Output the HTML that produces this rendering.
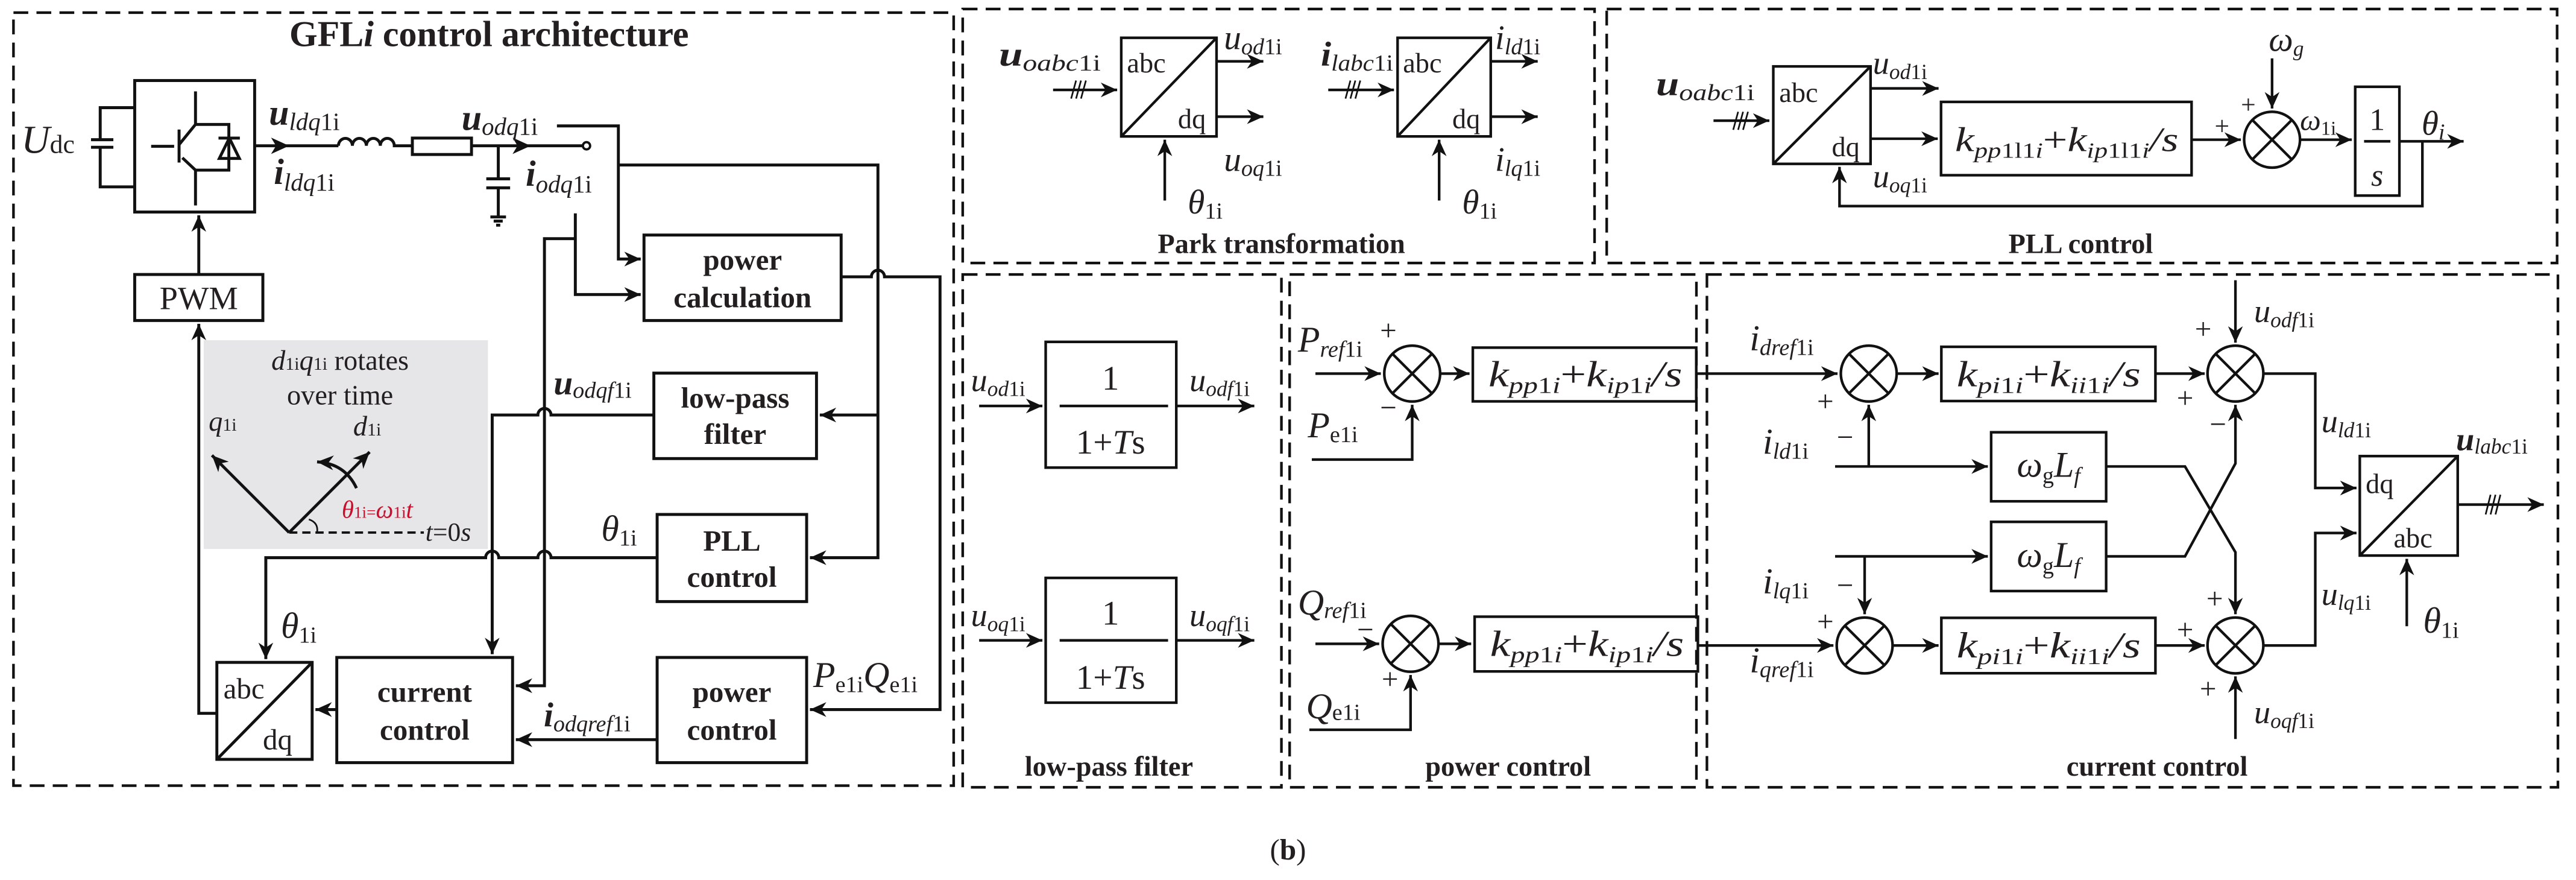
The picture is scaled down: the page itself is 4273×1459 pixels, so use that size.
<!DOCTYPE html>
<html><head><meta charset="utf-8"><style>
html,body{margin:0;padding:0;background:#fff;}
svg{display:block;}
text{font-family:"Liberation Serif",serif;fill:#231f20;}
.i{font-style:italic}
.b{font-weight:bold}
</style></head><body>
<svg width="4273" height="1459" viewBox="0 0 1568 535.4" preserveAspectRatio="none" xmlns="http://www.w3.org/2000/svg">
<defs>
<marker id="a" markerUnits="userSpaceOnUse" markerWidth="12" markerHeight="10" refX="10" refY="4.5" orient="auto"><path d="M0,0 L10,4.5 L0,9 L3,4.5 z" fill="#111"/></marker>
</defs>
<rect width="1568" height="535.4" fill="#fff"/>
<g fill="none" stroke="#111" stroke-width="1.6" stroke-dasharray="9,5">
<rect x="8.2" y="7.7" width="572.3" height="470.3"/>
<rect x="586" y="5.5" width="384.6" height="154.5"/>
<rect x="978" y="5.5" width="578.5" height="154.5"/>
<rect x="586" y="167" width="194" height="312"/>
<rect x="785" y="167" width="247.6" height="312"/>
<rect x="1039" y="167" width="518" height="312"/>
</g>
<rect x="124" y="207" width="173" height="127" fill="#e6e6e8"/>

<!-- LEFT PANEL -->
<g fill="none" stroke="#111" stroke-width="1.8">
<rect x="82" y="49" width="73" height="80"/>
<rect x="82" y="167" width="78" height="28"/>
<rect x="392" y="143" width="120" height="52"/>
<rect x="398" y="227" width="99" height="52"/>
<rect x="400" y="313" width="91" height="53"/>
<rect x="400" y="400" width="91" height="64"/>
<rect x="205" y="400" width="107" height="64"/>
<rect x="132" y="403" width="58" height="59"/>
<path d="M132 462 L190 403"/>
<path d="M82 65.5 H61 V85 M55.4 85 H69 M55.4 89.6 H69 M61 89.6 V113.7 H82"/>
<path d="M119 55.6 V75.7 L109 88 M109 78.8 V98.9 M92 89 H106 M119 125 V103.5 L111 96 M119 75.7 H139.3 V103.5 H119"/>
<path d="M133 84 H146"/>
<path d="M139.6 84 L133.5 96.4 H145.7 Z"/>
<path d="M155 88.7 H206 M206 88.7 a4.25 4.5 0 0 1 8.5 0 a4.25 4.5 0 0 1 8.5 0 a4.25 4.5 0 0 1 8.5 0 a4.25 4.5 0 0 1 8.5 0 H251 M287 88.7 H355"/>
<rect x="251" y="84" width="36" height="10"/>
<path d="M303.3 88.7 V108.8 M296 108.8 H310.5 M296 114.3 H310.5 M303.3 114.3 V132 M298.5 132 H308 M300.5 134.5 H306 M302 137 H304.5"/>
<path d="M339 76.6 H376.4 V157.6 H390" marker-end="url(#a)"/>
<path d="M376.4 100.4 H534.4 V339.3 H493" marker-end="url(#a)"/>
<path d="M534.4 252.5 H499" marker-end="url(#a)"/>
<path d="M350.2 129.8 V179.2 H390" marker-end="url(#a)"/>
<path d="M350.2 145.2 H331.4 V417.2 H314" marker-end="url(#a)"/>
<path d="M512 168.4 H530.4 A4 4 0 0 1 538.4 168.4 H572.2 V431.7 H493" marker-end="url(#a)"/>
<path d="M398 252.5 H335.4 A4 4 0 0 0 327.4 252.5 H299.6 V398" marker-end="url(#a)"/>
<path d="M400 339.3 H335.4 A4 4 0 0 0 327.4 339.3 H303.6 A4 4 0 0 0 295.6 339.3 H161.8 V401" marker-end="url(#a)"/>
<path d="M400 450 H314" marker-end="url(#a)"/>
<path d="M205 431.7 H192" marker-end="url(#a)"/>
<path d="M132 434 H121 V197" marker-end="url(#a)"/>
<path d="M121 167 V131" marker-end="url(#a)"/>
<path d="M176 324 L129 277" marker-end="url(#a)"/>
<path d="M176 324 L225 275" marker-end="url(#a)"/>
<path d="M176 324 H258" stroke-dasharray="5,3" stroke-width="1.4"/>
<path d="M217 297 Q210 282 193 281" marker-end="url(#a)"/>
<path d="M188 316 Q194 318 193 324" stroke-width="1"/>
</g>
<path d="M176 88.7 l-11 -5 l3 5 l-3 5z M323 88.7 l-11 -5 l3 5 l-3 5z" fill="#111"/>
<circle cx="357" cy="88.7" r="2.2" fill="#fff" stroke="#111" stroke-width="1.4"/>

<text x="297.7" y="28" font-size="22" class="b" text-anchor="middle">GFL<tspan class="i">i</tspan> control architecture</text>
<text x="13" y="93" font-size="24" class="i">U<tspan font-size="16" font-style="normal">dc</tspan></text>
<text x="163.7" y="76" font-size="22" class="b i">u<tspan font-size="15" font-weight="normal" dy="3">ldq</tspan><tspan font-size="15" font-weight="normal" font-style="normal">1i</tspan></text>
<text x="166.7" y="112" font-size="22" class="b i">i<tspan font-size="15" font-weight="normal" dy="4">ldq</tspan><tspan font-size="15" font-weight="normal" font-style="normal">1i</tspan></text>
<text x="281" y="79" font-size="22" class="b i">u<tspan font-size="15" font-weight="normal" dy="3">odq</tspan><tspan font-size="15" font-weight="normal" font-style="normal">1i</tspan></text>
<text x="320" y="113" font-size="22" class="b i">i<tspan font-size="15" font-weight="normal" dy="4">odq</tspan><tspan font-size="15" font-weight="normal" font-style="normal">1i</tspan></text>
<text x="121" y="188" font-size="20" text-anchor="middle">PWM</text>
<text x="452" y="164" font-size="18" class="b" text-anchor="middle">power</text>
<text x="452" y="187" font-size="18" class="b" text-anchor="middle">calculation</text>
<text x="447.5" y="248" font-size="18" class="b" text-anchor="middle">low-pass</text>
<text x="447.5" y="270" font-size="18" class="b" text-anchor="middle">filter</text>
<text x="445.5" y="335" font-size="18" class="b" text-anchor="middle">PLL</text>
<text x="445.5" y="357" font-size="18" class="b" text-anchor="middle">control</text>
<text x="445.5" y="427" font-size="18" class="b" text-anchor="middle">power</text>
<text x="445.5" y="450" font-size="18" class="b" text-anchor="middle">control</text>
<text x="258.5" y="427" font-size="18" class="b" text-anchor="middle">current</text>
<text x="258.5" y="450" font-size="18" class="b" text-anchor="middle">control</text>
<text x="136" y="425" font-size="18">abc</text>
<text x="160" y="456" font-size="18">dq</text>
<text x="337" y="240" font-size="21" class="b i">u<tspan font-size="14" font-weight="normal" dy="2">odqf</tspan><tspan font-size="14" font-weight="normal" font-style="normal">1i</tspan></text>
<text x="366" y="329" font-size="22" class="i">θ<tspan font-size="14" font-style="normal" dy="3">1i</tspan></text>
<text x="171" y="388" font-size="22" class="i">θ<tspan font-size="14" font-style="normal" dy="3">1i</tspan></text>
<text x="495" y="418" font-size="22" class="i">P<tspan font-size="14" font-style="normal" dy="3">e1i</tspan><tspan dy="-3">Q</tspan><tspan font-size="14" font-style="normal" dy="3">e1i</tspan></text>
<text x="331" y="442" font-size="21" class="b i">i<tspan font-size="14" font-weight="normal" dy="3">odqref</tspan><tspan font-size="14" font-weight="normal" font-style="normal">1i</tspan></text>
<text x="207" y="225" font-size="17" text-anchor="middle"><tspan class="i">d</tspan><tspan font-size="11">1i</tspan><tspan class="i">q</tspan><tspan font-size="11">1i</tspan> rotates</text>
<text x="207" y="246" font-size="17" text-anchor="middle">over time</text>
<text x="127" y="262" font-size="17" class="i">q<tspan font-size="11" font-style="normal">1i</tspan></text>
<text x="215" y="265" font-size="17" class="i">d<tspan font-size="11" font-style="normal">1i</tspan></text>
<text x="208" y="315" font-size="15" class="i" style="fill:#c8102e">θ<tspan font-size="10" font-style="normal">1i=</tspan>ω<tspan font-size="10" font-style="normal">1i</tspan>t</text>
<text x="259" y="329" font-size="16" class="i">t<tspan font-style="normal">=0</tspan>s</text>

<!-- PARK -->
<g fill="none" stroke="#111" stroke-width="1.6">
<rect x="682.5" y="23" width="58" height="60"/><path d="M682.5 83 L740.5 23"/>
<rect x="850.7" y="23" width="56.7" height="60"/><path d="M850.7 83 L907.4 23"/>
<path d="M641 54.7 H680" marker-end="url(#a)"/>
<path d="M808.5 54.7 H848.5" marker-end="url(#a)"/>
<path d="M740.5 37.3 H769" marker-end="url(#a)"/><path d="M740.5 71 H769" marker-end="url(#a)"/>
<path d="M907.4 37.3 H936" marker-end="url(#a)"/><path d="M907.4 71 H936" marker-end="url(#a)"/>
<path d="M709 122 V85" marker-end="url(#a)"/><path d="M876 122 V85" marker-end="url(#a)"/>
<path d="M652 60 L655 49 M655 60 L658 49 M658 60 L661 49 M819 60 L822 49 M822 60 L825 49 M825 60 L828 49" stroke-width="1"/>
</g>
<text x="686" y="44" font-size="17">abc</text><text x="717" y="78" font-size="17">dq</text>
<text x="854" y="44" font-size="17">abc</text><text x="884" y="78" font-size="17">dq</text>
<text x="608" y="40" font-size="21" class="b i" textLength="62" lengthAdjust="spacingAndGlyphs">u<tspan font-size="14" font-weight="normal" dy="3">oabc</tspan><tspan font-size="14" font-weight="normal" font-style="normal">1i</tspan></text>
<text x="804" y="40" font-size="21" class="b i" textLength="44" lengthAdjust="spacingAndGlyphs">i<tspan font-size="14" font-weight="normal" dy="3">labc</tspan><tspan font-size="14" font-weight="normal" font-style="normal">1i</tspan></text>
<text x="745" y="30" font-size="21" class="i">u<tspan font-size="14" dy="3">od</tspan><tspan font-size="14" font-style="normal">1i</tspan></text>
<text x="745" y="104" font-size="21" class="i">u<tspan font-size="14" dy="3">oq</tspan><tspan font-size="14" font-style="normal">1i</tspan></text>
<text x="910" y="30" font-size="21" class="i">i<tspan font-size="14" dy="3">ld</tspan><tspan font-size="14" font-style="normal">1i</tspan></text>
<text x="910" y="104" font-size="21" class="i">i<tspan font-size="14" dy="3">lq</tspan><tspan font-size="14" font-style="normal">1i</tspan></text>
<text x="723" y="130" font-size="21" class="i">θ<tspan font-size="14" font-style="normal" dy="3">1i</tspan></text>
<text x="890" y="130" font-size="21" class="i">θ<tspan font-size="14" font-style="normal" dy="3">1i</tspan></text>
<text x="780" y="154" font-size="17" class="b" text-anchor="middle">Park transformation</text>

<!-- PLL -->
<g fill="none" stroke="#111" stroke-width="1.6">
<rect x="1079.4" y="40.4" width="59.2" height="59.3"/><path d="M1079.4 99.7 L1138.6 40.4"/>
<path d="M1043 73.4 H1077" marker-end="url(#a)"/>
<path d="M1055 79 L1058 68 M1058 79 L1061 68 M1061 79 L1064 68" stroke-width="1"/>
<path d="M1138.6 53.8 H1180" marker-end="url(#a)"/>
<path d="M1138.6 84.4 H1179.5" marker-end="url(#a)"/>
<rect x="1181.5" y="62" width="152.5" height="44.6"/>
<path d="M1334 85 H1364" marker-end="url(#a)"/>
<circle cx="1383" cy="85" r="17"/><path d="M1371 73 L1395 97 M1395 73 L1371 97"/>
<path d="M1383 35.5 V66" marker-end="url(#a)"/>
<path d="M1400 85 H1431.5" marker-end="url(#a)"/>
<rect x="1433.6" y="52.8" width="26.9" height="66.2"/><path d="M1439 86 H1455"/>
<path d="M1460.5 86 H1499.6" marker-end="url(#a)"/>
<path d="M1474.5 86 V125.4 H1119.7 V101.5" marker-end="url(#a)"/>
</g>
<text x="1083" y="62" font-size="17">abc</text><text x="1115" y="95" font-size="17">dq</text>
<text x="1008" y="58" font-size="21" class="b i" textLength="60" lengthAdjust="spacingAndGlyphs">u<tspan font-size="14" font-weight="normal" dy="3">oabc</tspan><tspan font-size="14" font-weight="normal" font-style="normal">1i</tspan></text>
<text x="1140" y="45" font-size="20" class="i">u<tspan font-size="13" dy="3">od</tspan><tspan font-size="13" font-style="normal">1i</tspan></text>
<text x="1140" y="114" font-size="20" class="i">u<tspan font-size="13" dy="3">oq</tspan><tspan font-size="13" font-style="normal">1i</tspan></text>
<text x="1190" y="92" font-size="21" class="i" textLength="136" lengthAdjust="spacingAndGlyphs">k<tspan font-size="13" dy="4">pp</tspan><tspan font-size="13" font-style="normal">1l1</tspan><tspan font-size="13">i</tspan><tspan font-style="normal" dy="-4">+</tspan>k<tspan font-size="13" dy="4">ip</tspan><tspan font-size="13" font-style="normal">1l1</tspan><tspan font-size="13">i</tspan><tspan dy="-4">/s</tspan></text>
<text x="1381" y="31" font-size="21" class="i">ω<tspan font-size="13" dy="3">g</tspan></text>
<text x="1364" y="69" font-size="16">+</text><text x="1348" y="82" font-size="16">+</text>
<text x="1400" y="79" font-size="18" class="i">ω<tspan font-size="12" font-style="normal" dy="3">1i</tspan></text>
<text x="1447" y="79" font-size="19" text-anchor="middle">1</text>
<text x="1447" y="113" font-size="19" class="i" text-anchor="middle">s</text>
<text x="1474" y="82" font-size="21" class="i">θ<tspan font-size="14" dy="3">i</tspan></text>
<text x="1266.5" y="154" font-size="17" class="b" text-anchor="middle">PLL control</text>

<!-- LOW-PASS -->
<g fill="none" stroke="#111" stroke-width="1.6">
<rect x="636.5" y="208" width="79.5" height="76.5"/><path d="M645 247 H711"/>
<rect x="636.5" y="351.6" width="79.5" height="75.9"/><path d="M645 389.6 H711"/>
<path d="M596 247 H634.5" marker-end="url(#a)"/><path d="M716 247 H763.5" marker-end="url(#a)"/>
<path d="M596 389.6 H634.5" marker-end="url(#a)"/><path d="M716 389.6 H763.5" marker-end="url(#a)"/>
</g>
<text x="676" y="237" font-size="21" text-anchor="middle">1</text>
<text x="676" y="276" font-size="21" text-anchor="middle">1+<tspan class="i">T</tspan>s</text>
<text x="676" y="380" font-size="21" text-anchor="middle">1</text>
<text x="676" y="419" font-size="21" text-anchor="middle">1+<tspan class="i">T</tspan>s</text>
<text x="591" y="238" font-size="20" class="i">u<tspan font-size="13" dy="3">od</tspan><tspan font-size="13" font-style="normal">1i</tspan></text>
<text x="724" y="238" font-size="20" class="i">u<tspan font-size="13" dy="3">odf</tspan><tspan font-size="13" font-style="normal">1i</tspan></text>
<text x="591" y="381" font-size="20" class="i">u<tspan font-size="13" dy="3">oq</tspan><tspan font-size="13" font-style="normal">1i</tspan></text>
<text x="724" y="381" font-size="20" class="i">u<tspan font-size="13" dy="3">oqf</tspan><tspan font-size="13" font-style="normal">1i</tspan></text>
<text x="675" y="472" font-size="17" class="b" text-anchor="middle">low-pass filter</text>

<!-- POWER CONTROL -->
<g fill="none" stroke="#111" stroke-width="1.6">
<path d="M800.7 227.3 H840.5" marker-end="url(#a)"/>
<circle cx="859.6" cy="227.3" r="17"/><path d="M847.6 215.3 L871.6 239.3 M871.6 215.3 L847.6 239.3"/>
<path d="M798.5 279.6 H859.6 V246.3" marker-end="url(#a)"/>
<path d="M876.6 227.3 H894.5" marker-end="url(#a)"/>
<rect x="896.5" y="211.5" width="136" height="32.7"/>
<path d="M800.7 391.7 H839.5" marker-end="url(#a)"/>
<circle cx="858.6" cy="391.7" r="17"/><path d="M846.6 379.7 L870.6 403.7 M870.6 379.7 L846.6 403.7"/>
<path d="M797 444 H858.6 V410.7" marker-end="url(#a)"/>
<path d="M875.6 391.7 H895.5" marker-end="url(#a)"/>
<rect x="897.6" y="375.2" width="135.9" height="33.3"/>
</g>
<text x="790" y="214" font-size="22" class="i">P<tspan font-size="14" dy="3">ref</tspan><tspan font-size="14" font-style="normal">1i</tspan></text>
<text x="796" y="266" font-size="22" class="i">P<tspan font-size="14" font-style="normal" dy="3">e1i</tspan></text>
<text x="790" y="374" font-size="22" class="i">Q<tspan font-size="14" dy="2">ref</tspan><tspan font-size="14" font-style="normal">1i</tspan></text>
<text x="795" y="437" font-size="22" class="i">Q<tspan font-size="14" font-style="normal" dy="1">e1i</tspan></text>
<text x="840" y="207" font-size="18">+</text><text x="840" y="254" font-size="18">−</text>
<text x="826" y="389" font-size="18">−</text><text x="841" y="419" font-size="18">+</text>
<text x="965" y="235" font-size="22" class="i" text-anchor="middle" textLength="118" lengthAdjust="spacingAndGlyphs">k<tspan font-size="14" dy="4">pp</tspan><tspan font-size="14" font-style="normal">1</tspan><tspan font-size="14">i</tspan><tspan font-style="normal" dy="-4">+</tspan>k<tspan font-size="14" dy="4">ip</tspan><tspan font-size="14" font-style="normal">1</tspan><tspan font-size="14">i</tspan><tspan dy="-4">/s</tspan></text>
<text x="966" y="399" font-size="22" class="i" text-anchor="middle" textLength="118" lengthAdjust="spacingAndGlyphs">k<tspan font-size="14" dy="4">pp</tspan><tspan font-size="14" font-style="normal">1</tspan><tspan font-size="14">i</tspan><tspan font-style="normal" dy="-4">+</tspan>k<tspan font-size="14" dy="4">ip</tspan><tspan font-size="14" font-style="normal">1</tspan><tspan font-size="14">i</tspan><tspan dy="-4">/s</tspan></text>
<text x="918" y="472" font-size="17" class="b" text-anchor="middle">power control</text>

<!-- CURRENT CONTROL -->
<g fill="none" stroke="#111" stroke-width="1.6">
<path d="M1032.5 227.3 H1118.5" marker-end="url(#a)"/>
<path d="M1033.5 392.7 H1116" marker-end="url(#a)"/>
<circle cx="1137.5" cy="227.3" r="17"/><path d="M1125.5 215.3 L1149.5 239.3 M1149.5 215.3 L1125.5 239.3"/>
<circle cx="1135" cy="392.7" r="17"/><path d="M1123 380.7 L1147 404.7 M1147 380.7 L1123 404.7"/>
<path d="M1154.5 227.3 H1180" marker-end="url(#a)"/>
<path d="M1152 392.7 H1180" marker-end="url(#a)"/>
<rect x="1181.7" y="211" width="130.3" height="33"/>
<rect x="1181.7" y="375.9" width="130.3" height="33.7"/>
<path d="M1312 227.3 H1342" marker-end="url(#a)"/>
<path d="M1312 392.7 H1342" marker-end="url(#a)"/>
<circle cx="1360.7" cy="227.3" r="17"/><path d="M1348.7 215.3 L1372.7 239.3 M1372.7 215.3 L1348.7 239.3"/>
<circle cx="1360.7" cy="392.7" r="17"/><path d="M1348.7 380.7 L1372.7 404.7 M1372.7 380.7 L1348.7 404.7"/>
<path d="M1360.7 170.5 V208.5" marker-end="url(#a)"/>
<path d="M1360.7 449.6 V411.5" marker-end="url(#a)"/>
<path d="M1117 283.8 H1210" marker-end="url(#a)"/>
<path d="M1137.5 283.8 V246.3" marker-end="url(#a)"/>
<path d="M1117 338.5 H1210" marker-end="url(#a)"/>
<path d="M1135 338.5 V373.7" marker-end="url(#a)"/>
<rect x="1212" y="263" width="70" height="42"/>
<rect x="1212" y="317.5" width="70" height="42.1"/>
<path d="M1282 283.8 H1330 L1360.7 336 V373.7" marker-end="url(#a)"/>
<path d="M1282 338.5 H1330 L1360.7 282 V246.3" marker-end="url(#a)"/>
<path d="M1377.7 227.3 H1409.3 V296.9 H1434.4" marker-end="url(#a)"/>
<path d="M1377.7 392.7 H1409.3 V324.3 H1434.4" marker-end="url(#a)"/>
<rect x="1436.4" y="277.5" width="59.6" height="60.5"/><path d="M1436.4 338 L1496 277.5"/>
<path d="M1496 307 H1548.4" marker-end="url(#a)"/>
<path d="M1513 313 L1516 301 M1516 313 L1519 301 M1519 313 L1522 301" stroke-width="1"/>
<path d="M1465 381 V340" marker-end="url(#a)"/>
</g>
<text x="1440" y="300" font-size="17">dq</text><text x="1457" y="333" font-size="17">abc</text>
<text x="1065" y="213" font-size="22" class="i">i<tspan font-size="14" dy="3">dref</tspan><tspan font-size="14" font-style="normal">1i</tspan></text>
<text x="1065" y="409" font-size="22" class="i">i<tspan font-size="14" dy="3">qref</tspan><tspan font-size="14" font-style="normal">1i</tspan></text>
<text x="1073" y="276" font-size="22" class="i">i<tspan font-size="14" dy="3">ld</tspan><tspan font-size="14" font-style="normal">1i</tspan></text>
<text x="1073" y="361" font-size="22" class="i">i<tspan font-size="14" dy="3">lq</tspan><tspan font-size="14" font-style="normal">1i</tspan></text>
<text x="1106" y="250" font-size="18">+</text><text x="1118" y="272" font-size="18">−</text>
<text x="1118" y="362" font-size="18">−</text><text x="1106" y="384" font-size="18">+</text>
<text x="1336" y="206" font-size="18">+</text><text x="1325" y="248" font-size="18">+</text><text x="1345" y="264" font-size="18">−</text>
<text x="1343" y="370" font-size="18">+</text><text x="1325" y="389" font-size="18">+</text><text x="1339" y="425" font-size="18">+</text>
<text x="1247" y="235" font-size="22" class="i" text-anchor="middle" textLength="112" lengthAdjust="spacingAndGlyphs">k<tspan font-size="14" dy="4">pi</tspan><tspan font-size="14" font-style="normal">1</tspan><tspan font-size="14">i</tspan><tspan font-style="normal" dy="-4">+</tspan>k<tspan font-size="14" dy="4">ii</tspan><tspan font-size="14" font-style="normal">1</tspan><tspan font-size="14">i</tspan><tspan dy="-4">/s</tspan></text>
<text x="1247" y="400" font-size="22" class="i" text-anchor="middle" textLength="112" lengthAdjust="spacingAndGlyphs">k<tspan font-size="14" dy="4">pi</tspan><tspan font-size="14" font-style="normal">1</tspan><tspan font-size="14">i</tspan><tspan font-style="normal" dy="-4">+</tspan>k<tspan font-size="14" dy="4">ii</tspan><tspan font-size="14" font-style="normal">1</tspan><tspan font-size="14">i</tspan><tspan dy="-4">/s</tspan></text>
<text x="1247" y="290" font-size="22" class="i" text-anchor="middle">ω<tspan font-size="14" font-style="normal" dy="4">g</tspan><tspan dy="-4">L</tspan><tspan font-size="14" dy="4">f</tspan></text>
<text x="1247" y="345" font-size="22" class="i" text-anchor="middle">ω<tspan font-size="14" font-style="normal" dy="4">g</tspan><tspan dy="-4">L</tspan><tspan font-size="14" dy="4">f</tspan></text>
<text x="1372" y="196" font-size="20" class="i">u<tspan font-size="13" dy="3">odf</tspan><tspan font-size="13" font-style="normal">1i</tspan></text>
<text x="1372" y="440" font-size="20" class="i">u<tspan font-size="13" dy="3">oqf</tspan><tspan font-size="13" font-style="normal">1i</tspan></text>
<text x="1413" y="263" font-size="20" class="i">u<tspan font-size="13" dy="3">ld</tspan><tspan font-size="13" font-style="normal">1i</tspan></text>
<text x="1413" y="368" font-size="20" class="i">u<tspan font-size="13" dy="3">lq</tspan><tspan font-size="13" font-style="normal">1i</tspan></text>
<text x="1495" y="274" font-size="20" class="b i">u<tspan font-size="13" font-weight="normal" dy="2">labc</tspan><tspan font-size="13" font-weight="normal" font-style="normal">1i</tspan></text>
<text x="1475" y="385" font-size="22" class="i">θ<tspan font-size="14" font-style="normal" dy="3">1i</tspan></text>
<text x="1313" y="472" font-size="17" class="b" text-anchor="middle">current control</text>

<text x="784" y="523" font-size="18" text-anchor="middle">(<tspan class="b">b</tspan>)</text>
</svg>
</body></html>
